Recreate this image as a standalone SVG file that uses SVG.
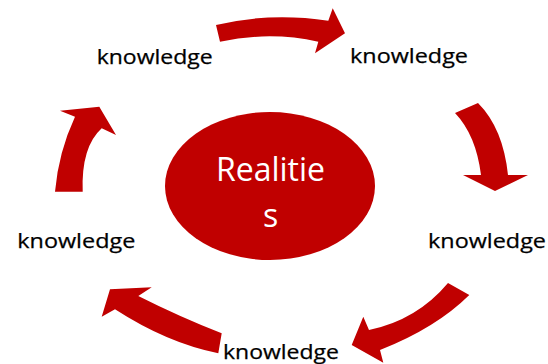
<svg xmlns="http://www.w3.org/2000/svg" width="548" height="364" viewBox="0 0 548 364">
<style>
.arrow{fill:#C00000;stroke:none}
.lbl{font-family:"Open Sans","Liberation Sans",sans-serif;font-size:20px;fill:#000000;stroke:#000000;stroke-width:0.25}
.ctr{font-family:"Open Sans","Liberation Sans",sans-serif;font-size:32px;fill:#ffffff;text-anchor:middle}
</style>
<rect width="548" height="364" fill="#ffffff"/>
<g id="connectors">
<path class="arrow" d="M216,25 Q270,12 328.3,20.7 L332.7,8.3 L345,33.3 L315,53.3 L318.3,41.7 Q270,31 220,41.7 Z"/>
<path class="arrow" d="M455,113 Q476,135 481,175 L463,175 L495,191 L528,175 L508,175 Q503,128 478,103 Z"/>
<path class="arrow" d="M448,283 Q417,320 369,330 L363.3,316.7 L351.7,345 L383.3,362.7 L380,350 Q436,328 469.3,295 Z"/>
<path class="arrow" d="M221.7,333.3 Q180,317 138.3,296 L151.7,287.3 L110,289.3 L101.7,316.7 L115,309.3 Q167,343 218.3,353.3 Z"/>
<path class="arrow" d="M55,191.7 Q58.4,152.4 75,116.7 L60,110.7 L99.3,106.7 L116,135 L101.7,128.3 Q81,147 82.7,191.7 Z"/>
</g>
<g id="center">
<ellipse cx="270" cy="186" rx="105" ry="74" fill="#C00000"/>
<text class="ctr" x="270.5" y="181">Realitie</text>
<text class="ctr" x="270.5" y="227">s</text>
</g>
<g id="k1"><text class="lbl" x="96.7" y="64" textLength="116" lengthAdjust="spacingAndGlyphs">knowledge</text></g>
<g id="k2"><text class="lbl" x="350" y="63" textLength="118" lengthAdjust="spacingAndGlyphs">knowledge</text></g>
<g id="k3"><text class="lbl" x="428" y="248" textLength="118" lengthAdjust="spacingAndGlyphs">knowledge</text></g>
<g id="k4"><text class="lbl" x="223" y="358.5" textLength="116" lengthAdjust="spacingAndGlyphs">knowledge</text></g>
<g id="k5"><text class="lbl" x="17.3" y="248" textLength="118" lengthAdjust="spacingAndGlyphs">knowledge</text></g>
</svg>
